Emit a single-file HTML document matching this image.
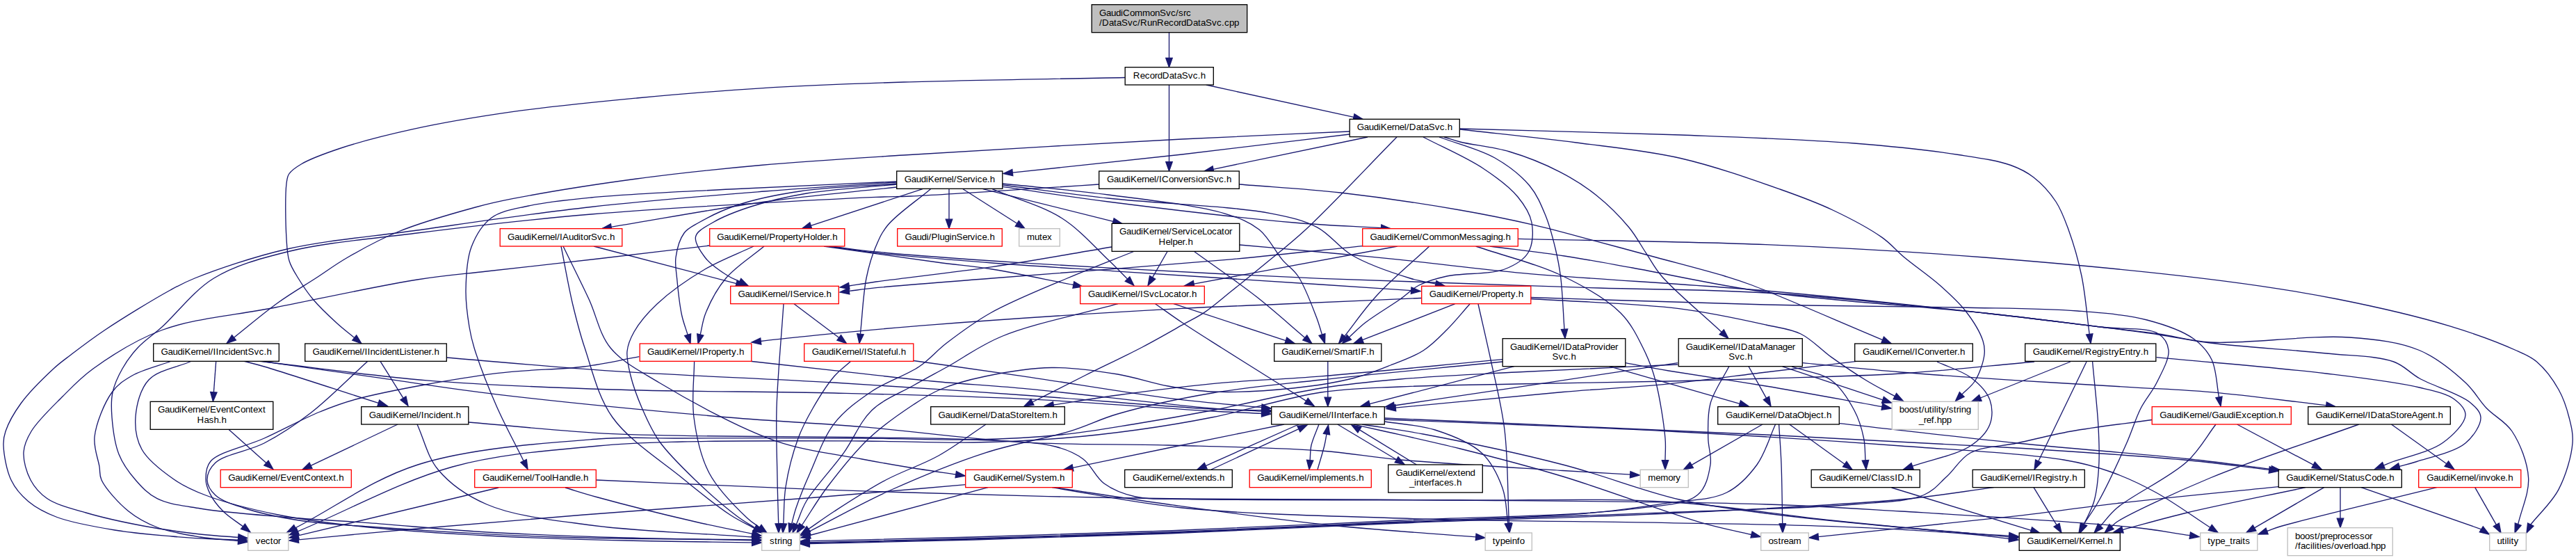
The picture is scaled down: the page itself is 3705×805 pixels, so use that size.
<!DOCTYPE html>
<html><head><meta charset="utf-8"><title>RunRecordDataSvc.cpp include graph</title>
<style>
html,body{margin:0;padding:0;background:#fff;}
svg{display:block}
text{font-family:"Liberation Sans",sans-serif;font-size:13.33px;fill:#000}
.e{fill:none;stroke:#191970;stroke-width:1.33}
.a{fill:#191970;stroke:#191970;stroke-width:1.33}
.n{stroke-width:1.33}
</style></head><body>
<svg width="3705" height="805" viewBox="0 0 3705 805">
<rect x="0" y="0" width="3705" height="805" fill="#ffffff"/>

<g id="edges">
<path class="e" d="M1681.5,46.7 C1681.5,46.7 1681.5,83.4 1681.5,83.4"/><polygon class="a" points="1681.5,96.7 1676.8,83.4 1686.2,83.4"/>
<path class="e" d="M1734.8,122.0 C1734.8,122.0 1947.0,168.4 1947.0,168.4"/><polygon class="a" points="1960.0,171.3 1946.0,173.0 1948.0,163.9"/>
<path class="e" d="M1681.5,122.0 C1681.5,122.0 1681.5,232.7 1681.5,232.7"/><polygon class="a" points="1681.5,246.0 1676.8,232.7 1686.2,232.7"/>
<path class="e" d="M1618.0,111.5 C1512.0,113.7 1394.5,115.0 1300.0,118.0 C1223.9,120.4 1160.2,122.8 1094.0,126.8 C1032.4,130.6 975.1,135.4 915.7,141.0 C856.1,146.7 793.1,152.7 737.0,160.7 C686.6,167.9 638.0,176.0 594.0,185.7 C555.6,194.1 516.3,204.2 487.0,214.0 C465.9,221.1 446.3,228.3 433.6,235.7 C425.6,240.4 419.2,244.6 415.7,250.0 C412.9,254.3 412.9,257.4 412.0,264.0 C410.0,279.5 410.7,322.5 412.0,343.0 C412.8,356.1 413.0,365.2 416.0,375.0 C418.8,384.1 423.8,391.5 429.0,400.0 C434.9,409.7 441.6,420.0 450.0,430.0 C459.8,441.6 474.1,455.1 485.0,465.0 C493.8,473.0 501.5,478.7 509.7,485.5"/><polygon class="a" points="520.0,494.0 506.8,489.1 512.7,481.9"/>
<path class="e" d="M1941.0,189.0 C1860.7,192.7 1790.4,195.3 1700.0,200.0 C1583.5,206.0 1411.4,215.9 1300.0,223.0 C1220.0,228.1 1160.1,231.6 1094.0,237.5 C1032.4,243.0 975.1,249.0 915.7,257.0 C856.1,265.0 779.0,277.5 737.0,285.7 C713.9,290.2 704.5,292.3 683.6,298.0 C653.2,306.3 605.6,319.7 573.0,333.0 C545.6,344.2 521.2,357.7 500.0,370.0 C482.6,380.0 470.0,389.6 454.0,400.0 C436.7,411.2 418.4,421.8 400.0,435.0 C379.3,449.8 357.6,468.5 336.5,485.2"/><polygon class="a" points="326.0,493.5 333.6,481.6 339.4,488.9"/>
<path class="e" d="M1941.0,193.0 C1860.7,202.7 1780.6,212.8 1700.0,222.0 C1619.0,231.2 1537.5,239.4 1456.3,248.1"/><polygon class="a" points="1443.0,249.5 1455.8,243.4 1456.8,252.7"/>
<path class="e" d="M1967.0,197.0 C1967.0,197.0 1745.0,243.3 1745.0,243.3"/><polygon class="a" points="1732.0,246.0 1744.1,238.7 1746.0,247.9"/>
<path class="e" d="M2009.0,197.0 C1965.3,241.3 1913.8,296.9 1878.0,330.0 C1854.9,351.3 1837.4,364.5 1818.6,380.0 C1801.9,393.8 1786.0,406.6 1771.0,418.6 C1757.7,429.3 1745.2,440.4 1733.0,448.6 C1722.7,455.6 1714.7,459.1 1703.0,465.7 C1686.5,475.0 1664.8,487.6 1643.0,499.0 C1617.7,512.3 1586.9,526.5 1560.0,540.0 C1534.3,552.8 1509.9,565.3 1484.9,578.0"/><polygon class="a" points="1473.0,584.0 1482.8,573.8 1487.0,582.2"/>
<path class="e" d="M2047.0,197.0 C2075.7,212.0 2108.9,226.0 2133.0,242.0 C2152.7,255.0 2171.0,268.4 2183.0,283.0 C2192.7,294.7 2200.5,306.8 2203.0,320.0 C2205.6,333.4 2204.7,351.8 2198.0,363.0 C2191.5,374.0 2178.7,381.3 2164.0,387.0 C2143.1,395.0 2103.5,392.0 2081.0,397.0 C2065.1,400.5 2052.6,404.0 2041.0,410.0 C2030.6,415.3 2024.5,422.6 2014.0,430.0 C2000.0,439.9 1977.3,453.2 1964.0,463.6 C1954.4,471.1 1948.3,477.7 1940.4,484.8"/><polygon class="a" points="1930.5,493.7 1937.3,481.3 1943.5,488.3"/>
<path class="e" d="M2070.0,197.0 C2096.7,207.0 2127.3,214.1 2150.0,227.0 C2169.6,238.2 2187.5,252.0 2200.0,267.0 C2210.9,280.1 2216.8,295.0 2223.0,310.0 C2229.2,325.0 2233.3,341.9 2237.0,357.0 C2240.3,370.8 2242.5,381.5 2244.5,397.0 C2247.3,418.3 2248.2,447.8 2250.0,473.2"/><polygon class="a" points="2251.0,486.5 2245.4,473.5 2254.7,472.9"/>
<path class="e" d="M2077.0,197.0 C2084.7,199.3 2090.1,201.5 2100.0,204.0 C2117.1,208.3 2147.6,211.1 2171.0,218.0 C2195.3,225.2 2221.3,235.7 2243.0,246.8 C2262.5,256.8 2279.5,267.5 2296.0,280.7 C2312.9,294.2 2330.4,311.7 2343.0,327.0 C2353.4,339.6 2359.9,352.6 2368.0,364.6 C2375.5,375.8 2379.3,384.5 2390.0,397.0 C2408.6,418.7 2447.5,450.6 2476.2,477.4"/><polygon class="a" points="2486.0,486.5 2473.1,480.8 2479.4,474.0"/>
<path class="e" d="M2100.0,186.0 C2155.7,192.3 2212.9,197.9 2267.0,205.0 C2318.4,211.8 2368.0,216.3 2417.0,227.5 C2465.7,238.7 2520.0,257.9 2560.0,272.0 C2589.5,282.4 2611.5,290.4 2636.0,302.0 C2660.5,313.6 2688.5,328.3 2707.0,341.4 C2720.4,350.9 2726.9,359.9 2739.0,370.0 C2753.9,382.4 2774.7,396.5 2790.0,410.0 C2803.7,422.2 2816.6,433.5 2827.0,447.0 C2837.2,460.2 2848.1,478.0 2852.0,490.0 C2854.5,497.6 2854.9,502.4 2854.0,510.0 C2852.7,520.6 2847.1,537.1 2841.0,547.0 C2835.9,555.3 2828.2,560.3 2821.8,566.9"/><polygon class="a" points="2812.5,576.5 2818.4,563.7 2825.1,570.2"/>
<path class="e" d="M2100.0,185.0 C2205.7,188.0 2317.6,190.2 2417.0,194.0 C2505.3,197.4 2594.3,200.3 2667.0,206.0 C2723.4,210.5 2775.7,216.1 2817.0,222.5 C2846.4,227.0 2872.5,230.5 2892.0,237.5 C2905.7,242.4 2914.7,247.0 2925.0,255.0 C2936.6,264.0 2948.6,277.2 2957.0,290.0 C2965.1,302.3 2969.4,314.7 2975.0,330.0 C2982.0,349.2 2989.1,373.3 2994.0,397.0 C2999.4,423.1 3001.5,452.7 3005.2,480.5"/><polygon class="a" points="3007.0,493.7 3000.6,481.1 3009.9,479.9"/>
<path class="e" d="M1418.0,610.0 C1395.3,625.0 1373.8,641.7 1350.0,655.0 C1325.9,668.4 1298.8,676.8 1274.0,690.0 C1248.8,703.4 1220.3,721.9 1200.0,735.0 C1185.4,744.5 1175.3,752.0 1163.0,760.4"/><polygon class="a" points="1152.0,768.0 1160.3,756.6 1165.6,764.3"/>
<path class="e" d="M1782.5,265.0 C1831.0,269.0 1877.6,271.3 1928.0,277.0 C1983.0,283.3 2049.5,293.2 2100.0,302.0 C2140.0,308.9 2173.1,315.8 2207.0,323.6 C2238.1,330.8 2266.6,339.0 2296.0,346.8 C2324.9,354.5 2352.3,362.0 2382.0,370.0 C2413.8,378.6 2455.6,389.3 2481.0,397.0 C2497.1,401.9 2502.3,403.4 2520.0,410.0 C2559.4,424.8 2645.1,462.4 2707.7,488.6"/><polygon class="a" points="2720.0,493.7 2705.9,492.9 2709.5,484.2"/>
<path class="e" d="M1580.5,265.0 C1551.7,266.9 1528.2,268.5 1494.0,270.7 C1444.1,273.9 1352.0,280.1 1310.0,282.0 C1288.1,283.0 1284.7,282.3 1260.0,283.4 C1189.2,286.5 969.7,297.9 850.0,308.0 C756.3,315.9 677.2,325.3 600.0,335.0 C533.1,343.4 465.9,348.8 413.0,362.0 C372.2,372.2 338.0,381.3 307.5,400.0 C278.4,417.8 253.4,451.7 233.0,470.0 C219.3,482.3 207.8,489.4 198.0,500.0 C189.2,509.5 182.0,519.3 176.0,530.0 C170.0,540.6 164.5,552.3 162.0,564.0 C159.5,575.6 160.0,586.9 161.0,600.0 C162.3,616.0 164.8,637.4 171.0,653.0 C176.6,667.1 185.6,679.2 195.0,690.0 C204.0,700.4 212.9,710.1 226.0,716.7 C242.3,725.0 263.7,727.0 288.0,731.0 C322.0,736.6 370.7,740.0 411.5,743.5 C451.4,746.9 487.0,748.5 530.0,751.7 C581.6,755.5 641.0,761.5 700.0,765.0 C763.9,768.8 834.9,771.0 900.0,773.0 C962.0,774.9 1021.1,775.5 1081.7,776.7"/><polygon class="a" points="1095.0,777.0 1081.6,781.4 1081.8,772.1"/>
<path class="e" d="M2786.0,520.0 C2802.3,527.7 2821.9,533.0 2835.0,543.0 C2846.5,551.8 2857.7,563.2 2862.0,575.0 C2865.9,585.8 2866.1,599.4 2862.0,610.0 C2857.5,621.6 2847.3,632.2 2834.0,641.0 C2814.6,653.9 2778.4,660.4 2750.6,670.1"/><polygon class="a" points="2738.0,674.5 2749.0,665.7 2752.1,674.5"/>
<path class="e" d="M2670.5,519.4 C2627.0,524.6 2584.3,529.7 2540.0,535.0 C2494.2,540.5 2447.7,547.1 2400.0,551.8 C2350.4,556.7 2304.4,558.7 2248.0,563.5 C2176.9,569.6 2087.5,578.7 2007.3,586.2"/><polygon class="a" points="1994.0,587.5 2006.8,581.6 2007.7,590.9"/>
<path class="e" d="M2720.6,701.0 C2720.6,701.0 2921.3,762.4 2921.3,762.4"/><polygon class="a" points="2934.0,766.3 2919.9,766.9 2922.6,757.9"/>
<path class="e" d="M1947.0,610.0 C1960.3,613.0 1970.3,615.2 1987.0,619.0 C2015.1,625.4 2059.9,635.0 2100.0,645.0 C2146.1,656.5 2195.2,669.1 2248.0,685.0 C2309.9,703.7 2398.0,737.3 2448.0,751.6 C2477.4,760.0 2495.4,762.9 2519.0,768.5"/><polygon class="a" points="2532.0,771.6 2518.0,773.1 2520.1,764.0"/>
<path class="e" d="M1959.0,610.0 C1988.3,614.7 2011.8,617.4 2047.0,624.0 C2100.5,634.1 2184.4,651.5 2248.0,668.0 C2306.5,683.1 2363.0,706.1 2415.0,718.0 C2459.3,728.1 2495.7,732.1 2540.0,738.0 C2590.0,744.6 2649.0,750.1 2700.0,755.0 C2746.6,759.5 2799.0,763.5 2834.0,766.6 C2856.6,768.6 2871.2,770.0 2889.7,771.8"/><polygon class="a" points="2903.0,773.0 2889.3,776.4 2890.2,767.1"/>
<path class="e" d="M1991.5,606.0 C2015.7,610.0 2040.8,610.6 2064.0,618.0 C2087.4,625.5 2114.5,635.8 2131.0,651.0 C2145.6,664.5 2154.7,684.0 2161.0,701.5 C2166.9,717.9 2166.3,735.4 2168.9,752.3"/><polygon class="a" points="2171.0,765.5 2164.3,753.1 2173.6,751.6"/>
<path class="e" d="M1991.5,601.0 C2174.3,609.0 2376.2,617.1 2540.0,625.0 C2672.9,631.4 2791.8,637.2 2901.0,644.0 C2991.7,649.7 3083.1,655.6 3150.0,662.0 C3195.3,666.3 3225.8,671.0 3263.8,675.4"/><polygon class="a" points="3277.0,677.0 3263.2,680.1 3264.3,670.8"/>
<path class="e" d="M1991.5,603.0 C2127.7,608.7 2270.7,613.2 2400.0,620.0 C2517.0,626.1 2632.6,633.5 2734.0,641.0 C2819.0,647.3 2913.9,651.9 2968.0,661.0 C2997.4,665.9 3013.1,670.3 3035.0,678.0 C3057.4,685.9 3078.6,695.7 3101.0,708.0 C3126.4,721.9 3152.9,741.5 3178.8,758.3"/><polygon class="a" points="3190.0,765.5 3176.3,762.2 3181.3,754.3"/>
<path class="e" d="M1847.0,610.0 C1791.3,621.3 1732.9,633.1 1680.0,644.0 C1632.1,653.8 1588.7,662.9 1543.1,672.3"/><polygon class="a" points="1530.0,675.0 1542.1,667.7 1544.0,676.9"/>
<path class="e" d="M1868.0,610.0 C1868.0,610.0 1734.2,669.6 1734.2,669.6"/><polygon class="a" points="1722.0,675.0 1732.3,665.3 1736.1,673.8"/>
<path class="e" d="M1742.0,675.0 C1742.0,675.0 1867.9,616.6 1867.9,616.6"/><polygon class="a" points="1880.0,611.0 1869.9,620.8 1865.9,612.4"/>
<path class="e" d="M1897.0,610.0 C1893.3,620.0 1888.1,630.7 1886.0,640.0 C1884.3,647.7 1884.8,654.5 1884.1,661.7"/><polygon class="a" points="1883.0,675.0 1879.5,661.3 1888.8,662.1"/>
<path class="e" d="M1895.0,675.0 C1898.3,663.3 1902.8,649.4 1905.0,640.0 C1906.5,633.7 1907.0,629.4 1908.0,624.1"/><polygon class="a" points="1910.5,611.0 1912.6,625.0 1903.4,623.2"/>
<path class="e" d="M1923.8,610.0 C1923.8,610.0 2008.6,660.7 2008.6,660.7"/><polygon class="a" points="2020.0,667.5 2006.2,664.7 2011.0,656.7"/>
<path class="e" d="M2037.4,668.0 C2037.4,668.0 1955.4,617.9 1955.4,617.9"/><polygon class="a" points="1944.0,611.0 1957.8,614.0 1952.9,621.9"/>
<path class="e" d="M3277.0,699.6 C3199.7,707.6 3113.1,715.8 3045.0,723.6 C2991.3,729.7 2957.2,735.1 2901.0,741.6 C2821.9,750.7 2710.5,761.6 2615.3,771.6"/><polygon class="a" points="2602.0,773.0 2614.8,767.0 2615.7,776.3"/>
<path class="e" d="M3316.0,700.7 C3259.2,712.8 3193.7,725.5 3145.6,737.0 C3109.9,745.5 3083.8,753.4 3052.9,761.6"/><polygon class="a" points="3040.0,765.0 3051.7,757.1 3054.1,766.1"/>
<path class="e" d="M3342.7,700.7 C3342.7,700.7 3242.5,758.8 3242.5,758.8"/><polygon class="a" points="3231.0,765.5 3240.2,754.8 3244.9,762.9"/>
<path class="e" d="M3366.0,700.7 C3366.0,700.7 3366.0,745.2 3366.0,745.2"/><polygon class="a" points="3366.0,758.5 3361.3,745.2 3370.7,745.2"/>
<path class="e" d="M3396.0,700.7 C3396.0,700.7 3568.8,760.8 3568.8,760.8"/><polygon class="a" points="3580.0,768.0 3566.3,764.7 3571.3,756.8"/>
<path class="e" d="M1513.0,700.7 C1575.3,710.5 1629.4,722.8 1700.0,730.0 C1791.0,739.3 1903.9,741.4 2014.0,745.0 C2136.0,749.0 2287.4,749.4 2400.0,751.6 C2487.7,753.3 2559.1,753.7 2634.0,756.6 C2703.3,759.3 2788.0,764.0 2834.0,768.0 C2858.4,770.1 2871.2,772.3 2889.8,774.5"/><polygon class="a" points="2903.0,776.0 2889.2,779.1 2890.3,769.8"/>
<path class="e" d="M1421.0,700.7 C1421.0,700.7 1164.9,769.5 1164.9,769.5"/><polygon class="a" points="1152.0,773.0 1163.7,765.0 1166.1,774.0"/>
<path class="e" d="M1518.0,700.7 C1572.0,708.8 1621.0,716.8 1680.0,725.0 C1750.8,734.8 1838.1,747.1 1914.0,755.0 C1985.5,762.5 2053.1,766.3 2122.7,771.9"/><polygon class="a" points="2136.0,773.0 2122.3,776.6 2123.1,767.3"/>
<path class="e" d="M1389.0,696.7 C1317.3,702.8 1253.5,708.6 1174.0,715.0 C1074.9,722.9 942.1,731.9 840.0,740.0 C753.4,746.9 673.2,753.6 600.0,760.0 C538.2,765.4 486.2,770.5 429.3,775.8"/><polygon class="a" points="416.0,777.0 428.8,771.1 429.7,780.4"/>
<path class="e" d="M1289.5,262.0 C1226.3,266.3 1167.5,269.6 1100.0,275.0 C1022.4,281.2 933.2,288.2 850.0,297.5 C766.6,306.8 677.3,320.2 600.0,331.0 C533.1,340.3 469.6,345.1 413.0,358.0 C364.4,369.1 309.8,388.1 280.0,400.0 C264.3,406.3 259.3,409.2 245.0,417.0 C220.8,430.2 176.0,457.6 150.0,475.0 C131.0,487.7 115.3,499.8 102.0,510.0 C92.2,517.5 86.3,521.4 77.0,530.0 C63.4,542.6 42.0,563.5 30.0,580.0 C20.2,593.5 11.8,608.7 8.0,620.0 C5.4,627.5 4.7,631.9 5.0,640.0 C5.4,652.9 9.3,676.0 16.0,690.0 C21.9,702.4 30.6,712.3 41.0,721.0 C52.3,730.4 65.4,737.2 82.0,743.5 C104.4,751.9 137.3,757.4 165.0,762.0 C192.3,766.5 221.6,768.8 247.0,771.0 C269.1,772.9 291.5,774.2 309.0,775.0 C321.9,775.6 331.5,775.7 342.7,776.1"/><polygon class="a" points="356.0,776.5 342.5,780.7 342.8,771.4"/>
<path class="e" d="M1289.5,261.0 C1209.7,264.7 1126.2,268.0 1050.0,272.0 C980.3,275.7 903.5,278.8 850.0,284.0 C814.0,287.5 785.8,290.2 760.0,296.0 C739.8,300.6 720.8,302.8 707.0,313.0 C693.8,322.8 684.2,338.8 678.0,355.0 C671.1,372.9 670.3,397.1 670.0,417.0 C669.7,435.3 672.5,454.9 675.0,470.0 C676.9,481.5 678.2,487.7 682.0,500.0 C688.5,521.0 702.1,556.3 714.0,583.5 C725.8,610.5 740.1,636.2 753.1,662.6"/><polygon class="a" points="759.0,674.5 748.9,664.6 757.3,660.5"/>
<path class="e" d="M1289.5,269.0 C1226.3,276.0 1165.5,281.0 1100.0,290.0 C1029.1,299.8 952.8,314.2 879.2,326.3"/><polygon class="a" points="866.0,328.5 878.4,321.7 879.9,330.9"/>
<path class="e" d="M1289.5,264.0 C1243.0,267.7 1191.2,268.8 1150.0,275.0 C1116.5,280.0 1085.9,286.3 1060.0,295.0 C1039.0,302.0 1018.7,312.1 1005.0,320.0 C996.0,325.2 989.3,327.8 984.0,335.0 C977.6,343.6 973.6,358.6 972.0,370.0 C970.6,380.2 972.5,388.6 973.6,400.0 C975.0,415.2 977.4,438.2 980.6,453.0 C983.0,464.0 986.3,471.8 989.1,481.2"/><polygon class="a" points="993.0,494.0 984.7,482.6 993.6,479.9"/>
<path class="e" d="M1289.5,265.0 C1246.3,269.3 1197.8,271.6 1160.0,278.0 C1129.9,283.1 1103.9,289.2 1080.0,297.0 C1059.7,303.6 1039.2,311.5 1025.0,320.0 C1014.7,326.2 1002.5,331.8 1000.6,340.0 C998.6,348.4 1007.1,361.0 1014.0,370.0 C1021.9,380.3 1037.9,390.8 1047.4,396.8 C1053.6,400.7 1058.3,402.1 1063.8,404.7"/><polygon class="a" points="1075.8,410.5 1061.8,408.9 1065.8,400.5"/>
<path class="e" d="M1327.0,271.7 C1327.0,271.7 1166.3,324.4 1166.3,324.4"/><polygon class="a" points="1153.6,328.5 1164.8,319.9 1167.7,328.8"/>
<path class="e" d="M1338.5,271.7 C1318.0,289.0 1290.3,307.4 1277.0,323.5 C1268.3,334.0 1264.9,342.2 1260.0,353.6 C1254.2,367.1 1249.6,382.2 1246.0,400.0 C1241.4,422.9 1240.3,453.5 1237.4,480.2"/><polygon class="a" points="1236.0,493.5 1232.8,479.7 1242.1,480.7"/>
<path class="e" d="M1365.0,271.7 C1365.0,271.7 1365.0,315.2 1365.0,315.2"/><polygon class="a" points="1365.0,328.5 1360.3,315.2 1369.7,315.2"/>
<path class="e" d="M1385.0,271.7 C1385.0,271.7 1462.8,321.3 1462.8,321.3"/><polygon class="a" points="1474.0,328.5 1460.3,325.3 1465.3,317.4"/>
<path class="e" d="M1413.6,271.7 C1413.6,271.7 1601.1,318.3 1601.1,318.3"/><polygon class="a" points="1614.0,321.5 1599.9,322.8 1602.2,313.8"/>
<path class="e" d="M1427.0,271.7 C1460.3,285.6 1498.3,295.4 1527.0,313.5 C1553.2,330.0 1576.7,357.2 1594.0,373.6 C1605.4,384.4 1612.4,391.9 1621.6,401.1"/><polygon class="a" points="1631.0,410.5 1618.3,404.4 1624.9,397.8"/>
<path class="e" d="M1442.0,264.0 C1492.7,269.3 1542.2,273.1 1594.0,280.0 C1648.5,287.2 1722.2,294.9 1761.0,306.8 C1783.2,313.6 1797.1,318.9 1811.0,330.0 C1824.9,341.1 1834.1,361.5 1844.5,373.6 C1852.5,382.9 1860.0,386.6 1867.0,397.0 C1877.0,411.8 1887.8,441.4 1893.8,457.0 C1897.5,466.7 1898.9,473.0 1901.5,481.0"/><polygon class="a" points="1905.5,493.7 1897.0,482.4 1905.9,479.6"/>
<path class="e" d="M1442.0,266.0 C1492.7,272.3 1537.8,278.9 1594.0,285.0 C1663.6,292.6 1774.1,296.3 1828.0,306.8 C1857.3,312.5 1874.9,316.4 1894.6,326.8 C1913.6,336.8 1924.9,355.5 1944.7,367.0 C1968.1,380.6 2005.6,393.1 2028.0,400.0 C2042.6,404.5 2052.7,405.4 2065.0,408.1"/><polygon class="a" points="2078.0,411.0 2064.0,412.7 2066.0,403.6"/>
<path class="e" d="M1442.0,268.4 C1492.7,275.6 1536.2,282.6 1594.0,290.0 C1670.5,299.7 1788.5,313.7 1861.0,320.0 C1910.6,324.3 1944.7,325.1 1986.5,327.7"/><polygon class="a" points="1999.8,328.5 1986.2,332.3 1986.8,323.0"/>
<path class="e" d="M854.0,354.0 C854.0,354.0 1059.1,407.6 1059.1,407.6"/><polygon class="a" points="1072.0,411.0 1057.9,412.1 1060.3,403.1"/>
<path class="e" d="M807.0,354.0 C812.5,381.7 817.5,411.3 823.6,437.0 C829.0,459.5 833.2,476.8 841.0,500.0 C851.0,529.7 859.7,570.1 881.0,600.0 C904.6,633.2 950.4,662.0 981.0,687.0 C1005.8,707.3 1030.4,727.2 1050.0,740.0 C1063.4,748.8 1073.6,753.0 1085.3,759.5"/><polygon class="a" points="1097.0,766.0 1083.1,763.6 1087.6,755.5"/>
<path class="e" d="M810.0,354.0 C822.3,379.3 835.4,405.1 847.0,430.0 C858.0,453.7 862.0,480.4 878.0,500.0 C895.0,520.8 918.8,532.4 948.0,550.0 C991.0,575.9 1062.2,615.2 1115.0,633.6 C1158.6,648.8 1204.6,653.1 1240.0,660.0 C1266.0,665.0 1285.4,668.3 1308.0,672.0 C1330.3,675.6 1352.5,678.7 1374.8,682.0"/><polygon class="a" points="1388.0,684.0 1374.1,686.6 1375.5,677.4"/>
<path class="e" d="M1020.5,353.0 C967.0,359.3 913.5,365.8 860.0,372.0 C806.6,378.2 747.1,384.5 700.0,390.0 C662.8,394.3 639.1,395.8 600.0,402.0 C543.9,410.9 460.2,429.3 396.0,442.0 C338.6,453.3 279.4,457.3 233.0,474.5 C194.6,488.7 159.6,511.5 134.0,530.0 C115.5,543.4 104.4,555.5 90.0,570.0 C74.7,585.4 54.3,604.6 45.0,620.0 C38.6,630.6 34.6,639.2 34.0,650.0 C33.3,662.3 38.0,678.6 44.0,690.0 C49.6,700.6 57.2,709.4 68.0,716.7 C81.9,726.1 103.0,730.9 123.5,737.0 C148.1,744.3 178.4,750.8 206.0,756.0 C233.3,761.1 263.4,765.2 288.0,768.0 C308.0,770.3 324.5,771.0 342.7,772.4"/><polygon class="a" points="356.0,773.5 342.3,777.1 343.1,767.8"/>
<path class="e" d="M1084.0,354.0 C1060.7,365.0 1036.6,373.6 1014.0,387.0 C990.2,401.0 963.0,420.1 945.0,437.0 C931.0,450.2 919.2,464.2 912.0,477.0 C906.5,486.7 903.0,495.0 902.0,505.0 C900.9,515.9 904.0,527.6 907.0,540.0 C910.6,554.7 916.8,571.6 923.5,587.0 C930.4,602.9 937.0,618.4 948.0,634.0 C961.2,652.7 981.5,672.2 1000.0,690.0 C1018.8,708.2 1043.8,729.8 1060.0,742.0 C1070.1,749.6 1077.2,753.2 1085.8,758.7"/><polygon class="a" points="1097.0,766.0 1083.3,762.7 1088.4,754.8"/>
<path class="e" d="M1099.0,354.0 C1080.7,369.3 1058.3,383.0 1044.0,400.0 C1031.1,415.3 1021.1,434.9 1015.0,450.0 C1010.4,461.2 1009.8,470.7 1007.2,481.1"/><polygon class="a" points="1004.0,494.0 1002.7,479.9 1011.8,482.2"/>
<path class="e" d="M1185.0,354.0 C1239.3,361.7 1303.4,371.0 1348.0,377.0 C1379.0,381.2 1398.2,382.4 1427.0,387.0 C1462.2,392.6 1504.9,402.0 1543.9,409.5"/><polygon class="a" points="1557.0,412.0 1543.0,414.1 1544.8,404.9"/>
<path class="e" d="M1192.0,354.0 C1214.7,357.2 1232.3,360.4 1260.0,363.6 C1303.3,368.5 1370.8,373.7 1427.0,378.0 C1484.1,382.4 1534.4,385.3 1600.0,389.6 C1686.3,395.3 1820.7,403.8 1900.0,409.0 C1952.2,412.4 1986.5,414.7 2029.7,417.6"/><polygon class="a" points="2043.0,418.5 2029.4,422.3 2030.0,413.0"/>
<path class="e" d="M1195.0,354.0 C1216.7,356.7 1233.3,359.3 1260.0,362.0 C1302.7,366.3 1370.8,371.1 1427.0,375.0 C1484.1,378.9 1534.4,381.8 1600.0,385.4 C1686.3,390.2 1807.7,396.5 1900.0,400.4 C1979.0,403.7 2050.3,405.6 2120.0,408.0 C2183.0,410.1 2235.7,412.0 2300.0,414.0 C2374.3,416.3 2454.7,415.8 2540.0,421.0 C2637.7,426.9 2765.8,440.6 2854.0,450.0 C2918.4,456.8 2974.9,464.5 3021.0,470.0 C3053.6,473.9 3077.5,476.2 3104.5,480.0 C3130.1,483.6 3148.0,490.1 3179.0,492.0 C3229.4,495.1 3323.9,480.9 3379.0,485.0 C3418.4,487.9 3450.7,491.4 3479.6,503.5 C3505.4,514.3 3528.9,534.2 3546.0,550.0 C3559.2,562.2 3565.5,575.4 3576.6,587.0 C3587.8,598.7 3603.4,605.6 3613.0,620.0 C3624.5,637.4 3635.3,664.5 3636.6,687.0 C3637.9,709.0 3626.7,731.3 3621.7,753.5"/><polygon class="a" points="3617.0,766.0 3617.3,751.9 3626.1,755.2"/>
<path class="e" d="M1959.7,353.6 C1893.5,360.3 1835.8,366.9 1761.0,373.6 C1664.1,382.3 1519.2,392.6 1427.0,400.0 C1361.8,405.3 1296.2,410.0 1260.0,413.7 C1242.5,415.5 1234.2,416.8 1221.2,418.4"/><polygon class="a" points="1208.0,420.0 1220.7,413.8 1221.8,423.0"/>
<path class="e" d="M2009.8,354.0 C2009.8,354.0 1717.1,408.1 1717.1,408.1"/><polygon class="a" points="1704.0,410.5 1716.3,403.5 1718.0,412.7"/>
<path class="e" d="M2055.8,354.0 C2030.5,377.7 2001.4,401.7 1980.0,425.0 C1961.9,444.7 1949.2,463.8 1933.8,483.3"/><polygon class="a" points="1925.5,493.7 1930.1,480.4 1937.4,486.2"/>
<path class="e" d="M2122.6,354.0 C2164.4,368.3 2211.4,379.4 2248.0,397.0 C2279.5,412.2 2310.9,429.7 2331.0,450.0 C2347.2,466.3 2356.4,486.6 2365.0,504.0 C2372.3,518.8 2376.5,530.1 2381.0,547.0 C2387.1,569.9 2393.2,608.8 2395.0,630.0 C2396.1,643.0 2395.0,651.1 2395.0,661.7"/><polygon class="a" points="2395.0,675.0 2390.3,661.7 2399.7,661.7"/>
<path class="e" d="M2143.0,354.0 C2178.7,358.7 2215.2,362.7 2250.0,368.0 C2283.4,373.1 2309.9,378.2 2348.0,385.0 C2401.4,394.5 2467.9,410.0 2540.0,420.0 C2631.6,432.7 2765.8,440.5 2854.0,450.0 C2918.4,456.9 2974.9,464.5 3021.0,470.0 C3053.6,473.9 3089.0,470.1 3104.5,480.0 C3113.4,485.7 3118.0,494.1 3119.0,503.5 C3120.3,516.1 3109.0,535.7 3102.0,550.0 C3095.5,563.4 3085.9,573.4 3079.0,587.0 C3071.3,602.1 3067.0,618.2 3058.8,636.8 C3048.0,661.1 3030.7,698.6 3018.7,720.0 C3010.7,734.2 3003.9,742.9 2996.5,754.3"/><polygon class="a" points="2990.0,766.0 2992.4,752.1 3000.6,756.6"/>
<path class="e" d="M2183.5,343.4 C2302.3,346.2 2425.0,347.0 2540.0,351.7 C2648.0,356.1 2746.8,361.6 2854.0,370.0 C2967.0,378.9 3107.9,392.2 3201.5,404.3 C3265.4,412.6 3308.7,419.4 3362.0,430.0 C3415.8,440.7 3476.5,454.6 3523.0,468.6 C3559.6,479.7 3597.0,493.7 3619.5,504.0 C3632.3,509.8 3639.4,512.2 3648.5,520.0 C3659.8,529.6 3672.1,546.0 3680.0,560.0 C3687.2,572.8 3691.7,586.7 3695.0,600.0 C3698.1,612.4 3701.1,623.0 3700.0,637.0 C3698.5,656.1 3690.4,683.8 3680.0,703.6 C3670.0,722.6 3653.2,737.2 3639.8,754.0"/><polygon class="a" points="3634.0,766.0 3635.6,752.0 3644.0,756.1"/>
<path class="e" d="M1599.0,355.0 C1541.7,364.5 1484.0,375.2 1427.0,383.6 C1371.0,391.8 1296.2,399.9 1260.0,405.0 C1242.5,407.5 1234.1,409.0 1221.2,411.0"/><polygon class="a" points="1208.0,413.0 1220.5,406.4 1221.9,415.6"/>
<path class="e" d="M1630.7,361.5 C1598.8,374.3 1567.9,385.9 1535.0,400.0 C1499.3,415.2 1455.6,432.5 1424.5,450.0 C1399.7,464.0 1379.3,479.5 1361.0,493.5 C1346.1,505.0 1337.5,516.5 1322.0,527.0 C1303.1,539.8 1274.6,548.5 1254.0,562.5 C1234.1,575.9 1214.6,589.9 1200.0,608.7 C1184.5,628.6 1174.7,658.2 1165.0,680.0 C1157.0,698.0 1149.6,716.4 1145.0,730.0 C1141.9,739.1 1140.7,745.4 1138.6,753.2"/><polygon class="a" points="1135.0,766.0 1134.1,751.9 1143.1,754.4"/>
<path class="e" d="M1679.0,361.5 C1679.0,361.5 1657.6,398.9 1657.6,398.9"/><polygon class="a" points="1651.0,410.5 1653.6,396.6 1661.7,401.2"/>
<path class="e" d="M1717.6,361.5 C1747.7,383.3 1780.1,405.3 1807.8,427.0 C1832.7,446.6 1853.8,465.9 1876.8,485.4"/><polygon class="a" points="1887.0,494.0 1873.8,489.0 1879.8,481.8"/>
<path class="e" d="M1783.0,352.0 C1831.3,356.3 1886.0,361.1 1928.0,365.0 C1960.4,368.0 1980.6,369.9 2014.0,373.4 C2060.5,378.2 2114.7,385.7 2181.0,391.8 C2278.0,400.7 2424.4,407.9 2540.0,418.0 C2648.2,427.5 2765.8,440.2 2854.0,450.0 C2918.4,457.1 2974.9,464.2 3021.0,470.0 C3053.6,474.1 3077.5,477.0 3104.5,481.0 C3130.1,484.7 3149.1,489.3 3179.0,493.0 C3223.5,498.6 3297.9,502.9 3346.0,508.0 C3382.7,511.9 3418.8,511.3 3442.8,520.0 C3459.0,525.9 3465.3,535.8 3480.0,544.0 C3499.8,555.0 3537.4,565.9 3552.0,578.0 C3560.5,585.1 3567.6,591.6 3568.0,600.0 C3568.5,610.6 3557.8,627.1 3546.0,637.0 C3530.4,650.1 3493.6,657.8 3476.0,663.5 C3465.6,666.9 3459.2,668.1 3450.8,670.4"/><polygon class="a" points="3438.0,674.0 3449.6,665.9 3452.1,675.0"/>
<path class="e" d="M1142.0,436.7 C1142.0,436.7 1206.8,485.5 1206.8,485.5"/><polygon class="a" points="1217.4,493.5 1203.9,489.2 1209.6,481.7"/>
<path class="e" d="M1127.0,436.7 C1123.7,486.8 1118.3,542.0 1117.0,587.0 C1116.0,623.7 1117.5,657.2 1118.0,687.0 C1118.4,711.2 1119.1,730.8 1119.7,752.7"/><polygon class="a" points="1120.0,766.0 1115.0,752.8 1124.3,752.6"/>
<path class="e" d="M1608.0,436.7 C1552.3,452.3 1485.4,465.2 1441.0,483.5 C1409.2,496.6 1386.0,514.2 1363.0,527.0 C1344.8,537.1 1331.1,544.2 1314.0,554.0 C1294.9,564.9 1270.6,573.9 1254.0,589.7 C1237.0,605.9 1228.4,630.1 1213.6,650.8 C1197.4,673.4 1171.6,700.4 1160.0,720.0 C1152.5,732.7 1150.2,742.5 1145.3,753.8"/><polygon class="a" points="1140.0,766.0 1141.0,751.9 1149.6,755.6"/>
<path class="e" d="M1661.6,436.7 C1674.4,445.6 1685.8,454.0 1700.0,463.5 C1717.0,474.9 1734.4,485.7 1757.0,500.0 C1789.9,520.9 1838.1,550.9 1878.7,576.4"/><polygon class="a" points="1890.0,583.5 1876.2,580.4 1881.2,572.5"/>
<path class="e" d="M1688.0,436.7 C1688.0,436.7 1849.3,489.6 1849.3,489.6"/><polygon class="a" points="1862.0,493.7 1847.9,494.0 1850.8,485.1"/>
<path class="e" d="M2044.0,428.5 C1978.3,431.3 1907.9,434.4 1847.0,437.0 C1794.4,439.3 1759.7,440.2 1700.0,443.4 C1606.6,448.5 1438.0,459.3 1341.0,466.8 C1274.8,471.9 1219.5,477.3 1174.0,481.8 C1142.5,484.9 1120.8,487.6 1094.3,490.5"/><polygon class="a" points="1081.0,492.0 1093.7,485.9 1094.8,495.2"/>
<path class="e" d="M2092.5,436.9 C2092.5,436.9 1959.6,488.7 1959.6,488.7"/><polygon class="a" points="1947.2,493.5 1957.9,484.3 1961.3,493.0"/>
<path class="e" d="M2114.0,437.0 C2103.0,449.3 2092.4,462.6 2081.0,474.0 C2070.1,484.9 2060.0,495.7 2047.0,504.0 C2033.2,512.9 2016.3,518.5 2000.0,525.0 C1983.0,531.8 1967.1,538.4 1947.0,543.5 C1921.8,549.9 1891.2,554.7 1860.0,558.0 C1824.1,561.7 1776.4,564.4 1743.5,563.0 C1719.1,562.0 1701.8,558.9 1680.0,555.0 C1656.5,550.8 1633.5,542.3 1607.6,538.0 C1578.2,533.1 1544.2,528.0 1512.5,528.5 C1480.7,529.0 1445.6,535.0 1417.0,541.0 C1393.0,546.0 1370.4,552.2 1352.0,560.0 C1337.2,566.2 1328.0,572.3 1314.0,581.5 C1295.1,594.0 1270.0,611.1 1250.0,630.0 C1228.5,650.2 1207.0,677.6 1190.0,700.0 C1175.6,719.0 1165.6,736.6 1153.4,754.9"/><polygon class="a" points="1146.0,766.0 1149.5,752.3 1157.3,757.5"/>
<path class="e" d="M2126.0,437.0 C2132.0,463.7 2138.0,488.7 2144.0,517.0 C2150.7,548.7 2159.6,581.7 2164.0,618.0 C2169.1,659.5 2168.2,707.8 2170.4,752.7"/><polygon class="a" points="2171.0,766.0 2165.7,752.9 2175.0,752.5"/>
<path class="e" d="M2201.0,427.5 C2314.0,431.0 2432.4,435.6 2540.0,438.0 C2637.8,440.2 2738.5,440.2 2820.0,442.0 C2883.1,443.4 2939.3,443.1 2988.0,447.0 C3025.7,450.0 3058.4,452.3 3088.0,460.0 C3113.0,466.6 3138.8,475.4 3155.0,487.0 C3167.0,495.6 3175.0,504.6 3181.0,517.0 C3188.1,531.6 3188.0,552.9 3191.5,570.9"/><polygon class="a" points="3194.0,584.0 3186.9,571.8 3196.0,570.0"/>
<path class="e" d="M2201.0,429.5 C2272.3,434.2 2353.2,435.8 2414.8,443.6 C2462.3,449.6 2507.8,459.8 2540.0,467.0 C2560.5,471.6 2574.6,472.5 2590.0,480.0 C2606.0,487.8 2618.7,502.5 2634.0,513.4 C2650.0,524.8 2667.9,537.0 2684.0,546.8 C2698.2,555.5 2711.5,562.0 2725.3,569.6"/><polygon class="a" points="2737.0,576.0 2723.1,573.7 2727.6,565.5"/>
<path class="e" d="M919.4,512.7 C892.9,517.5 869.6,523.2 840.0,527.0 C802.9,531.8 760.7,530.6 714.0,536.7 C654.7,544.4 558.8,561.6 513.6,573.5 C489.7,579.8 479.4,584.1 460.0,592.0 C435.7,601.9 406.5,618.0 380.0,630.0 C354.2,641.7 314.9,649.3 303.0,663.0 C296.2,670.8 295.9,680.8 296.0,689.0 C296.1,696.6 298.9,703.5 302.5,710.6 C306.7,718.9 313.6,727.6 321.0,735.0 C329.0,743.1 340.0,749.5 349.5,756.8"/><polygon class="a" points="360.0,765.0 346.6,760.5 352.4,753.1"/>
<path class="e" d="M998.6,519.0 C998.4,546.0 994.5,573.3 998.0,600.0 C1001.5,627.0 1007.3,656.0 1020.0,680.0 C1032.8,704.4 1061.2,732.0 1075.0,745.0 C1081.9,751.5 1086.6,753.7 1092.3,758.0"/><polygon class="a" points="1103.0,766.0 1089.5,761.7 1095.1,754.3"/>
<path class="e" d="M1077.0,519.0 C1118.0,523.5 1157.6,527.9 1200.0,532.6 C1245.4,537.6 1294.9,543.6 1341.0,548.0 C1385.4,552.2 1420.3,553.6 1471.7,558.4 C1545.9,565.3 1682.1,582.0 1743.5,587.0 C1774.9,589.6 1791.0,589.8 1814.7,591.2"/><polygon class="a" points="1828.0,592.0 1814.4,595.9 1815.0,586.6"/>
<path class="e" d="M1224.0,519.0 C1216.0,526.3 1208.0,531.6 1200.0,540.8 C1189.6,552.9 1177.9,571.6 1169.0,587.0 C1160.8,601.3 1154.0,613.6 1148.0,630.0 C1140.6,650.2 1133.4,678.2 1130.0,700.0 C1127.1,718.7 1127.9,735.1 1126.8,752.7"/><polygon class="a" points="1126.0,766.0 1122.1,752.4 1131.5,753.0"/>
<path class="e" d="M1314.0,518.5 C1366.6,525.9 1414.9,532.5 1471.7,540.8 C1538.4,550.5 1626.3,565.6 1689.0,573.4 C1736.5,579.3 1772.8,581.6 1814.7,585.7"/><polygon class="a" points="1828.0,587.0 1814.3,590.3 1815.2,581.1"/>
<path class="e" d="M1909.8,519.4 C1909.8,519.4 1909.8,571.2 1909.8,571.2"/><polygon class="a" points="1909.8,584.5 1905.1,571.2 1914.5,571.2"/>
<path class="e" d="M2161.0,516.7 C2074.0,524.7 1976.0,534.7 1900.0,540.8 C1841.2,545.5 1793.8,546.8 1743.5,551.6 C1696.5,556.1 1648.5,562.4 1607.6,568.0 C1573.8,572.6 1546.0,577.3 1515.2,582.0"/><polygon class="a" points="1502.0,584.0 1514.5,577.4 1515.9,586.6"/>
<path class="e" d="M2161.0,520.0 C2074.0,528.7 1975.9,537.6 1900.0,546.0 C1841.2,552.5 1793.6,556.4 1743.5,565.0 C1696.4,573.0 1644.8,584.2 1607.6,595.0 C1580.8,602.8 1565.9,611.5 1539.7,619.6 C1505.1,630.3 1458.9,637.4 1417.4,650.8 C1372.5,665.3 1323.4,685.5 1280.0,705.0 C1239.2,723.4 1202.6,744.3 1163.9,764.0"/><polygon class="a" points="1152.0,770.0 1161.8,759.8 1166.0,768.1"/>
<path class="e" d="M2177.7,526.7 C2177.7,526.7 1969.9,580.7 1969.9,580.7"/><polygon class="a" points="1957.0,584.0 1968.7,576.1 1971.1,585.2"/>
<path class="e" d="M2314.6,526.7 C2314.6,526.7 2502.2,580.3 2502.2,580.3"/><polygon class="a" points="2515.0,584.0 2500.9,584.8 2503.5,575.8"/>
<path class="e" d="M2338.0,521.7 C2358.7,525.5 2375.2,528.8 2400.0,533.0 C2437.3,539.3 2491.3,546.9 2540.0,555.0 C2593.2,563.9 2651.3,574.8 2706.9,584.7"/><polygon class="a" points="2720.0,587.0 2706.1,589.3 2707.7,580.1"/>
<path class="e" d="M2413.0,521.7 C2335.7,533.4 2253.0,546.0 2181.0,556.8 C2118.3,566.2 2063.8,574.3 2005.2,583.0"/><polygon class="a" points="1992.0,585.0 2004.5,578.4 2005.9,587.7"/>
<path class="e" d="M2413.0,524.0 C2335.7,527.7 2252.0,531.2 2181.0,535.0 C2120.8,538.2 2064.3,540.6 2014.0,545.0 C1972.3,548.6 1940.9,551.5 1900.0,558.0 C1851.7,565.7 1790.5,581.0 1743.0,590.0 C1703.7,597.5 1671.1,603.2 1635.0,609.0 C1598.8,614.8 1563.7,621.2 1526.0,625.0 C1485.6,629.1 1444.5,631.0 1400.0,632.0 C1349.9,633.1 1299.7,630.4 1240.0,630.0 C1164.0,629.5 1051.1,629.7 981.0,630.0 C933.1,630.2 907.8,627.4 860.0,631.0 C789.8,636.3 677.2,643.7 601.0,668.0 C534.6,689.2 483.6,728.6 424.8,758.9"/><polygon class="a" points="413.0,765.0 422.7,754.7 427.0,763.0"/>
<path class="e" d="M2486.8,526.8 C2477.9,544.5 2464.9,562.0 2460.0,580.0 C2455.5,596.5 2456.6,614.5 2456.8,630.0 C2456.9,643.5 2462.1,655.2 2460.0,668.0 C2457.7,682.3 2454.2,701.0 2441.5,711.5 C2423.5,726.4 2389.1,726.2 2348.0,731.6 C2271.2,741.7 2125.3,742.8 2014.0,748.0 C1902.7,753.2 1786.4,758.9 1680.0,763.0 C1582.6,766.8 1489.3,769.5 1400.0,772.0 C1318.1,774.3 1242.9,775.8 1164.3,777.7"/><polygon class="a" points="1151.0,778.0 1164.2,773.0 1164.4,782.3"/>
<path class="e" d="M2515.0,526.8 C2515.0,526.8 2540.5,572.4 2540.5,572.4"/><polygon class="a" points="2547.0,584.0 2536.4,574.6 2544.6,570.1"/>
<path class="e" d="M2563.7,526.8 C2563.7,526.8 2708.0,574.8 2708.0,574.8"/><polygon class="a" points="2720.6,579.0 2706.5,579.2 2709.4,570.4"/>
<path class="e" d="M2577.0,526.8 C2596.0,533.5 2618.8,535.8 2634.0,546.8 C2648.4,557.3 2659.1,575.2 2667.0,590.0 C2674.0,603.0 2678.0,617.3 2680.6,630.0 C2682.9,641.0 2682.2,651.1 2683.0,661.7"/><polygon class="a" points="2684.0,675.0 2678.3,662.1 2687.7,661.4"/>
<path class="e" d="M2593.0,521.7 C2640.0,526.1 2685.0,531.0 2734.0,535.0 C2787.3,539.4 2845.3,543.2 2901.0,546.8 C2956.7,550.4 3018.0,553.7 3068.0,556.8 C3108.8,559.3 3140.3,560.3 3179.0,563.7 C3221.5,567.4 3283.0,575.2 3312.6,578.7 C3327.4,580.4 3334.7,581.4 3345.8,582.8"/><polygon class="a" points="3359.0,584.4 3345.2,587.4 3346.3,578.1"/>
<path class="e" d="M2535.0,610.0 C2535.0,610.0 2433.1,668.4 2433.1,668.4"/><polygon class="a" points="2421.5,675.0 2430.7,664.3 2435.4,672.4"/>
<path class="e" d="M2553.6,610.0 C2544.7,629.3 2539.0,651.5 2527.0,668.0 C2515.4,683.9 2502.0,698.8 2483.5,708.0 C2461.4,719.0 2430.4,718.4 2400.0,723.0 C2363.9,728.5 2328.7,733.9 2281.0,738.0 C2209.8,744.1 2108.0,745.8 2014.0,750.0 C1908.9,754.7 1786.4,760.9 1680.0,765.0 C1582.6,768.8 1489.3,771.5 1400.0,774.0 C1318.1,776.3 1242.9,777.8 1164.3,779.7"/><polygon class="a" points="1151.0,780.0 1164.2,775.0 1164.4,784.3"/>
<path class="e" d="M2558.6,610.0 C2559.7,629.0 2561.2,646.1 2562.0,667.0 C2563.0,692.6 2563.2,724.1 2563.7,752.7"/><polygon class="a" points="2564.0,766.0 2559.1,752.8 2568.4,752.6"/>
<path class="e" d="M2573.7,610.0 C2573.7,610.0 2653.2,667.2 2653.2,667.2"/><polygon class="a" points="2664.0,675.0 2650.5,671.0 2655.9,663.4"/>
<path class="e" d="M2645.5,608.6 C2730.7,618.1 2816.3,628.4 2901.0,637.0 C2984.5,645.5 3082.6,652.7 3150.0,660.0 C3196.3,665.0 3227.8,669.6 3266.8,674.4"/><polygon class="a" points="3280.0,676.0 3266.2,679.0 3267.3,669.7"/>
<path class="e" d="M3392.8,610.0 C3321.5,635.7 3241.5,661.1 3179.0,687.0 C3128.6,707.9 3062.3,738.6 3045.0,750.0 C3040.3,753.1 3039.6,754.8 3037.0,757.1"/><polygon class="a" points="3027.0,766.0 3033.9,753.7 3040.1,760.6"/>
<path class="e" d="M3439.5,610.0 C3439.5,610.0 3518.9,666.7 3518.9,666.7"/><polygon class="a" points="3529.7,674.5 3516.1,670.5 3521.6,662.9"/>
<path class="e" d="M3504.6,700.7 C3429.4,719.5 3312.3,747.0 3279.0,757.0 C3269.3,759.9 3266.7,761.4 3260.6,763.5"/><polygon class="a" points="3248.0,768.0 3259.0,759.1 3262.1,767.9"/>
<path class="e" d="M3559.7,700.7 C3559.7,700.7 3590.4,754.4 3590.4,754.4"/><polygon class="a" points="3597.0,766.0 3586.3,756.7 3594.4,752.1"/>
<path class="e" d="M247.0,519.0 C228.0,526.0 205.2,531.2 190.0,540.0 C178.0,546.9 169.2,552.7 161.0,564.0 C150.0,579.3 138.1,608.5 136.0,628.0 C134.4,643.5 141.2,659.6 143.0,671.0 C144.2,678.6 142.7,682.9 146.0,690.0 C151.8,702.5 170.7,723.4 185.0,735.0 C197.7,745.3 210.4,752.0 226.0,758.0 C244.1,765.0 267.9,768.7 288.0,772.0 C306.7,775.1 324.5,775.8 342.7,777.6"/><polygon class="a" points="356.0,779.0 342.3,782.3 343.2,773.0"/>
<path class="e" d="M276.0,519.0 C255.3,528.0 227.5,531.6 214.0,546.0 C201.7,559.2 196.3,581.7 195.0,599.0 C193.8,615.0 196.2,631.8 204.0,646.0 C213.0,662.3 233.8,677.7 250.0,689.0 C264.6,699.2 277.1,704.8 296.0,712.0 C323.3,722.4 363.2,732.5 400.0,740.0 C440.7,748.3 483.7,753.2 530.0,758.0 C582.8,763.5 641.0,766.9 700.0,770.0 C763.9,773.4 834.9,775.4 900.0,777.0 C962.0,778.6 1021.1,778.9 1081.7,779.8"/><polygon class="a" points="1095.0,780.0 1081.6,784.5 1081.7,775.1"/>
<path class="e" d="M310.7,519.4 C310.7,519.4 307.4,563.7 307.4,563.7"/><polygon class="a" points="306.4,577.0 302.7,563.4 312.0,564.1"/>
<path class="e" d="M350.0,519.0 C360.0,521.7 366.1,522.9 380.0,527.0 C412.9,536.6 489.5,562.0 544.3,579.4"/><polygon class="a" points="557.0,583.5 542.9,583.9 545.7,575.0"/>
<path class="e" d="M371.0,519.0 C451.9,528.3 530.8,540.0 613.8,546.8 C700.6,553.9 788.0,557.0 881.0,560.0 C982.6,563.3 1097.9,562.6 1200.0,565.0 C1294.2,567.2 1381.2,569.1 1471.7,573.4 C1562.3,577.7 1682.1,587.6 1743.5,591.0 C1774.9,592.8 1791.0,593.2 1814.7,594.4"/><polygon class="a" points="1828.0,595.0 1814.5,599.0 1814.9,589.7"/>
<path class="e" d="M375.0,519.0 C432.3,527.1 490.1,535.4 547.0,543.4 C603.1,551.3 648.7,559.0 714.0,566.8 C806.1,577.8 951.9,591.8 1048.0,600.0 C1120.8,606.2 1173.0,608.0 1240.0,613.6 C1313.6,619.8 1396.4,631.5 1471.7,635.9 C1542.9,640.0 1609.6,638.0 1680.0,640.0 C1752.3,642.0 1838.7,643.4 1900.0,648.0 C1944.3,651.3 1969.2,657.0 2014.0,661.0 C2078.1,666.8 2187.0,672.7 2248.0,676.5 C2287.2,679.0 2312.5,680.3 2344.7,682.2"/><polygon class="a" points="2358.0,683.0 2344.4,686.9 2345.0,677.6"/>
<path class="e" d="M528.6,519.4 C501.4,544.1 473.7,572.9 447.0,593.5 C424.3,611.0 403.2,625.0 380.0,637.0 C357.5,648.7 322.9,652.9 310.0,665.0 C302.2,672.3 297.8,682.0 298.0,690.0 C298.2,697.6 303.4,705.9 310.0,712.0 C318.8,720.1 334.1,724.7 350.0,730.0 C371.8,737.3 401.7,743.6 430.0,748.0 C461.3,752.9 488.5,754.0 530.0,757.0 C598.1,762.0 709.0,768.9 800.0,772.0 C892.9,775.2 987.8,774.5 1081.7,775.8"/><polygon class="a" points="1095.0,776.0 1081.6,780.5 1081.7,771.1"/>
<path class="e" d="M547.0,519.4 C547.0,519.4 579.9,572.2 579.9,572.2"/><polygon class="a" points="587.0,583.5 576.0,574.7 583.9,569.7"/>
<path class="e" d="M642.0,514.0 C721.7,520.5 795.5,527.7 881.0,533.4 C979.6,540.0 1098.0,544.0 1200.0,550.0 C1294.2,555.6 1381.1,561.7 1471.7,568.0 C1562.3,574.3 1682.1,585.0 1743.5,588.0 C1774.9,589.5 1790.9,589.1 1814.7,589.7"/><polygon class="a" points="1828.0,590.0 1814.6,594.4 1814.8,585.0"/>
<path class="e" d="M572.0,610.0 C572.0,610.0 447.0,669.3 447.0,669.3"/><polygon class="a" points="435.0,675.0 445.0,665.1 449.0,673.5"/>
<path class="e" d="M600.0,610.0 C610.0,631.7 614.6,656.4 630.0,675.0 C646.9,695.4 670.6,712.3 700.0,725.0 C739.2,742.0 794.3,747.4 850.0,755.0 C918.6,764.3 1004.5,766.3 1081.7,772.0"/><polygon class="a" points="1095.0,773.0 1081.4,776.7 1082.0,767.4"/>
<path class="e" d="M674.0,607.0 C743.0,612.5 802.5,619.9 881.0,623.6 C984.2,628.5 1144.2,626.9 1240.0,628.6 C1304.0,629.7 1350.8,629.4 1400.0,632.0 C1442.4,634.2 1489.5,634.6 1518.0,642.0 C1535.3,646.5 1546.4,651.3 1558.0,660.0 C1569.9,668.9 1575.7,686.1 1588.0,695.0 C1600.6,704.2 1615.7,710.1 1633.0,714.0 C1654.5,718.9 1673.2,716.6 1708.0,717.5 C1787.5,719.5 1978.1,718.3 2100.0,719.0 C2206.7,719.6 2306.3,715.8 2400.0,721.5 C2483.0,726.5 2559.0,740.3 2634.0,748.0 C2703.2,755.1 2787.9,763.0 2834.0,766.6 C2858.3,768.5 2871.1,769.0 2889.7,770.2"/><polygon class="a" points="2903.0,771.0 2889.4,774.8 2890.0,765.5"/>
<path class="e" d="M328.6,617.0 C328.6,617.0 382.9,665.6 382.9,665.6"/><polygon class="a" points="392.8,674.5 379.8,669.1 386.0,662.1"/>
<path class="e" d="M2926.0,520.0 C2862.0,525.7 2798.2,533.0 2734.0,537.0 C2669.6,541.0 2599.4,542.1 2540.0,544.0 C2489.5,545.6 2451.9,546.8 2400.0,548.0 C2335.1,549.5 2249.1,550.6 2181.0,552.0 C2121.6,553.3 2064.3,553.6 2014.0,556.0 C1972.4,558.0 1940.8,557.9 1900.0,564.0 C1851.6,571.2 1790.6,590.6 1743.0,600.0 C1703.8,607.8 1671.2,613.0 1635.0,618.0 C1598.8,623.0 1563.7,627.0 1526.0,630.0 C1485.6,633.2 1444.5,635.2 1400.0,636.0 C1349.9,636.9 1299.7,634.3 1240.0,634.0 C1164.0,633.7 1051.1,633.1 981.0,635.0 C933.1,636.3 905.7,636.6 860.0,641.0 C799.7,646.8 720.6,651.8 651.0,671.0 C576.6,691.5 502.5,732.9 428.3,763.9"/><polygon class="a" points="416.0,769.0 426.5,759.6 430.1,768.2"/>
<path class="e" d="M2977.8,520.0 C2977.8,520.0 2848.4,572.0 2848.4,572.0"/><polygon class="a" points="2836.0,577.0 2846.6,567.7 2850.1,576.4"/>
<path class="e" d="M3001.0,520.0 C3001.0,520.0 2931.8,663.0 2931.8,663.0"/><polygon class="a" points="2926.0,675.0 2927.6,661.0 2936.0,665.0"/>
<path class="e" d="M3009.6,520.0 C3012.4,551.2 3016.6,586.3 3018.0,613.6 C3019.1,634.7 3019.8,651.8 3018.7,670.0 C3017.7,687.2 3016.1,705.2 3012.0,720.0 C3008.5,732.6 3002.2,742.5 2997.3,753.8"/><polygon class="a" points="2992.0,766.0 2993.0,751.9 3001.6,755.6"/>
<path class="e" d="M3101.5,513.6 C3183.0,521.4 3276.8,528.5 3346.0,537.0 C3397.3,543.3 3446.0,549.0 3479.6,557.0 C3500.6,562.0 3518.4,565.3 3529.7,573.7 C3538.0,579.8 3546.3,588.1 3546.0,596.7 C3545.6,608.4 3527.9,626.2 3513.0,636.8 C3495.0,649.7 3456.4,657.9 3442.0,663.5 C3435.7,666.0 3432.9,667.2 3428.4,669.0"/><polygon class="a" points="3416.0,674.0 3426.6,664.7 3430.1,673.3"/>
<path class="e" d="M2925.0,700.7 C2925.0,700.7 2958.0,754.6 2958.0,754.6"/><polygon class="a" points="2965.0,766.0 2954.1,757.1 2962.0,752.2"/>
<path class="e" d="M2867.6,700.7 C2823.1,706.5 2788.7,712.8 2734.0,718.0 C2647.8,726.1 2515.4,732.5 2400.0,738.0 C2276.0,744.0 2138.0,747.0 2014.0,752.0 C1898.6,756.7 1786.4,762.9 1680.0,767.0 C1582.6,770.8 1489.3,773.5 1400.0,776.0 C1318.1,778.3 1242.9,779.8 1164.3,781.7"/><polygon class="a" points="1151.0,782.0 1164.2,777.0 1164.4,786.3"/>
<path class="e" d="M3095.0,603.5 C3056.2,609.0 3013.4,613.7 2978.6,620.0 C2950.0,625.1 2925.9,631.7 2901.0,637.0 C2877.9,642.0 2851.5,641.5 2834.0,651.0 C2819.3,658.9 2811.5,674.7 2800.0,685.0 C2789.2,694.7 2782.2,705.0 2767.0,711.5 C2743.6,721.5 2708.5,721.3 2667.0,725.0 C2599.5,731.0 2497.2,732.7 2400.0,736.6 C2283.2,741.3 2138.0,745.9 2014.0,751.0 C1898.6,755.7 1786.4,761.9 1680.0,766.0 C1582.6,769.8 1489.3,772.5 1400.0,775.0 C1318.1,777.3 1242.9,778.8 1164.3,780.7"/><polygon class="a" points="1151.0,781.0 1164.2,776.0 1164.4,785.3"/>
<path class="e" d="M3187.0,610.0 C3173.2,627.8 3164.2,646.2 3145.6,663.5 C3120.7,686.6 3066.3,711.8 3045.0,730.0 C3033.4,739.9 3029.0,747.4 3021.0,756.2"/><polygon class="a" points="3012.0,766.0 3017.6,753.0 3024.4,759.3"/>
<path class="e" d="M3217.5,610.0 C3217.5,610.0 3327.2,668.2 3327.2,668.2"/><polygon class="a" points="3339.0,674.5 3325.0,672.4 3329.4,664.1"/>
<path class="e" d="M717.0,701.0 C717.0,701.0 429.0,769.9 429.0,769.9"/><polygon class="a" points="416.0,773.0 427.9,765.4 430.1,774.4"/>
<path class="e" d="M813.0,701.0 C828.7,705.7 840.1,709.5 860.0,715.0 C894.2,724.4 959.5,740.7 1000.0,750.0 C1030.9,757.1 1054.6,761.5 1082.0,767.3"/><polygon class="a" points="1095.0,770.0 1081.0,771.8 1082.9,762.7"/>
<path class="e" d="M857.5,690.0 C963.0,694.5 1067.1,699.7 1174.0,703.6 C1283.8,707.6 1412.0,711.3 1508.0,713.6 C1580.8,715.3 1624.4,716.1 1700.0,717.0 C1809.1,718.2 1963.5,717.7 2100.0,719.0 C2243.2,720.3 2423.0,721.2 2540.0,725.0 C2617.8,727.5 2660.6,730.6 2734.0,735.0 C2830.3,740.8 2994.4,750.2 3068.0,758.0 C3104.6,761.9 3122.5,765.8 3149.8,769.7"/><polygon class="a" points="3163.0,771.6 3149.1,774.3 3150.5,765.1"/>
</g>
<g id="nodes">
<rect class="n" x="1570.20" y="6.67" width="223.50" height="40.00" fill="#bfbfbf" stroke="#000000"/>
<text x="1580.9 1590.9 1597.9 1604.9 1611.9 1614.9 1624.9 1631.9 1642.9 1653.9 1660.9 1667.9 1676.9 1683.9 1690.9 1694.9 1701.9 1705.9" y="22.7">GaudiCommonSvc/src</text>
<text x="1580.9 1584.9 1594.9 1601.9 1605.9 1612.9 1621.9 1628.9 1635.9 1639.9 1649.9 1656.9 1663.9 1673.9 1680.9 1687.9 1694.9 1698.9 1705.9 1715.9 1722.9 1726.9 1733.9 1742.9 1749.9 1756.9 1760.9 1767.9 1774.9" y="37.1">/DataSvc/RunRecordDataSvc.cpp</text>
<rect class="n" x="1618.20" y="96.66" width="127.10" height="25.34" fill="#ffffff" stroke="#000000"/>
<text x="1629.8 1639.8 1646.8 1653.8 1660.8 1664.8 1671.8 1681.8 1688.8 1692.8 1699.8 1708.8 1715.8 1722.8 1726.8" y="112.6">RecordDataSvc.h</text>
<rect class="n" x="1941.20" y="171.33" width="158.10" height="25.34" fill="#ffffff" stroke="#000000"/>
<text x="1951.8 1961.8 1968.8 1975.8 1982.8 1985.8 1994.8 2001.8 2005.8 2012.8 2019.8 2022.8 2026.8 2036.8 2043.8 2047.8 2054.8 2063.8 2070.8 2077.8 2081.8" y="187.3">GaudiKernel/DataSvc.h</text>
<rect class="n" x="1289.70" y="246.00" width="152.10" height="25.34" fill="#ffffff" stroke="#000000"/>
<text x="1300.8 1310.8 1317.8 1324.8 1331.8 1334.8 1343.8 1350.8 1354.8 1361.8 1368.8 1371.8 1375.8 1384.8 1391.8 1395.8 1402.8 1405.8 1412.8 1419.8 1423.8" y="262.0">GaudiKernel/Service.h</text>
<rect class="n" x="1580.70" y="246.00" width="201.60" height="25.34" fill="#ffffff" stroke="#000000"/>
<text x="1592.0 1602.0 1609.0 1616.0 1623.0 1626.0 1635.0 1642.0 1646.0 1653.0 1660.0 1663.0 1667.0 1671.0 1681.0 1688.0 1695.0 1702.0 1709.0 1713.0 1720.0 1723.0 1730.0 1737.0 1746.0 1753.0 1760.0 1764.0" y="262.0">GaudiKernel/IConversionSvc.h</text>
<rect class="n" x="719.20" y="328.66" width="175.60" height="25.34" fill="#ffffff" stroke="#ff0000"/>
<text x="730.0 740.0 747.0 754.0 761.0 764.0 773.0 780.0 784.0 791.0 798.0 801.0 805.0 809.0 818.0 825.0 832.0 835.0 839.0 846.0 850.0 859.0 866.0 873.0 877.0" y="344.6">GaudiKernel/IAuditorSvc.h</text>
<rect class="n" x="1020.70" y="328.66" width="194.10" height="25.34" fill="#ffffff" stroke="#ff0000"/>
<text x="1031.2 1041.2 1048.2 1055.2 1062.2 1065.2 1074.2 1081.2 1085.2 1092.2 1099.2 1102.2 1106.2 1115.2 1119.2 1126.2 1133.2 1140.2 1144.2 1148.2 1155.2 1165.2 1172.2 1175.2 1182.2 1189.2 1193.2 1197.2" y="344.6">GaudiKernel/PropertyHolder.h</text>
<rect class="n" x="1290.70" y="328.66" width="150.60" height="25.34" fill="#ffffff" stroke="#ff0000"/>
<text x="1301.5 1311.5 1318.5 1325.5 1332.5 1335.5 1339.5 1348.5 1351.5 1358.5 1365.5 1368.5 1375.5 1384.5 1391.5 1395.5 1402.5 1405.5 1412.5 1419.5 1423.5" y="344.6">Gaudi/PluginService.h</text>
<rect class="n" x="1465.70" y="328.66" width="58.60" height="25.34" fill="#ffffff" stroke="#bfbfbf"/>
<text x="1477.0 1488.0 1495.0 1499.0 1506.0" y="344.6">mutex</text>
<rect class="n" x="1599.20" y="321.33" width="183.60" height="40.00" fill="#ffffff" stroke="#000000"/>
<text x="1610.0 1620.0 1627.0 1634.0 1641.0 1644.0 1653.0 1660.0 1664.0 1671.0 1678.0 1681.0 1685.0 1694.0 1701.0 1705.0 1712.0 1715.0 1722.0 1729.0 1736.0 1743.0 1750.0 1757.0 1761.0 1768.0" y="337.3">GaudiKernel/ServiceLocator</text>
<text x="1666.5 1676.5 1683.5 1686.5 1693.5 1700.5 1704.5 1708.5" y="351.7">Helper.h</text>
<rect class="n" x="1959.70" y="328.66" width="223.60" height="25.34" fill="#ffffff" stroke="#ff0000"/>
<text x="1970.5 1980.5 1987.5 1994.5 2001.5 2004.5 2013.5 2020.5 2024.5 2031.5 2038.5 2041.5 2045.5 2055.5 2062.5 2073.5 2084.5 2091.5 2098.5 2109.5 2116.5 2123.5 2130.5 2137.5 2144.5 2147.5 2154.5 2161.5 2165.5" y="344.6">GaudiKernel/CommonMessaging.h</text>
<rect class="n" x="1050.70" y="411.33" width="155.60" height="25.34" fill="#ffffff" stroke="#ff0000"/>
<text x="1061.5 1071.5 1078.5 1085.5 1092.5 1095.5 1104.5 1111.5 1115.5 1122.5 1129.5 1132.5 1136.5 1140.5 1149.5 1156.5 1160.5 1167.5 1170.5 1177.5 1184.5 1188.5" y="427.3">GaudiKernel/IService.h</text>
<rect class="n" x="1553.70" y="411.33" width="178.60" height="25.34" fill="#ffffff" stroke="#ff0000"/>
<text x="1565.0 1575.0 1582.0 1589.0 1596.0 1599.0 1608.0 1615.0 1619.0 1626.0 1633.0 1636.0 1640.0 1644.0 1653.0 1660.0 1667.0 1674.0 1681.0 1688.0 1695.0 1699.0 1706.0 1710.0 1714.0" y="427.3">GaudiKernel/ISvcLocator.h</text>
<rect class="n" x="2044.70" y="411.33" width="157.10" height="25.34" fill="#ffffff" stroke="#ff0000"/>
<text x="2055.8 2065.8 2072.8 2079.8 2086.8 2089.8 2098.8 2105.8 2109.8 2116.8 2123.8 2126.8 2130.8 2139.8 2143.8 2150.8 2157.8 2164.8 2168.8 2172.8 2179.8 2183.8" y="427.3">GaudiKernel/Property.h</text>
<rect class="n" x="220.70" y="494.00" width="180.60" height="25.34" fill="#ffffff" stroke="#000000"/>
<text x="231.5 241.5 248.5 255.5 262.5 265.5 274.5 281.5 285.5 292.5 299.5 302.5 306.5 310.5 314.5 321.5 328.5 331.5 338.5 345.5 352.5 356.5 365.5 372.5 379.5 383.5" y="510.0">GaudiKernel/IIncidentSvc.h</text>
<rect class="n" x="438.70" y="494.00" width="203.60" height="25.34" fill="#ffffff" stroke="#000000"/>
<text x="449.5 459.5 466.5 473.5 480.5 483.5 492.5 499.5 503.5 510.5 517.5 520.5 524.5 528.5 532.5 539.5 546.5 549.5 556.5 563.5 570.5 574.5 581.5 584.5 591.5 595.5 602.5 609.5 616.5 620.5 624.5" y="510.0">GaudiKernel/IIncidentListener.h</text>
<rect class="n" x="920.20" y="494.00" width="160.60" height="25.34" fill="#ffffff" stroke="#ff0000"/>
<text x="931.0 941.0 948.0 955.0 962.0 965.0 974.0 981.0 985.0 992.0 999.0 1002.0 1006.0 1010.0 1019.0 1023.0 1030.0 1037.0 1044.0 1048.0 1052.0 1059.0 1063.0" y="510.0">GaudiKernel/IProperty.h</text>
<rect class="n" x="1156.70" y="494.00" width="157.10" height="25.34" fill="#ffffff" stroke="#ff0000"/>
<text x="1167.8 1177.8 1184.8 1191.8 1198.8 1201.8 1210.8 1217.8 1221.8 1228.8 1235.8 1238.8 1242.8 1246.8 1255.8 1259.8 1266.8 1270.8 1277.8 1281.8 1288.8 1291.8 1295.8" y="510.0">GaudiKernel/IStateful.h</text>
<rect class="n" x="1832.70" y="494.00" width="154.10" height="25.34" fill="#ffffff" stroke="#000000"/>
<text x="1843.2 1853.2 1860.2 1867.2 1874.2 1877.2 1886.2 1893.2 1897.2 1904.2 1911.2 1914.2 1918.2 1927.2 1938.2 1945.2 1949.2 1953.2 1957.2 1965.2 1969.2" y="510.0">GaudiKernel/SmartIF.h</text>
<rect class="n" x="2161.20" y="486.67" width="176.60" height="40.00" fill="#ffffff" stroke="#000000"/>
<text x="2172.0 2182.0 2189.0 2196.0 2203.0 2206.0 2215.0 2222.0 2226.0 2233.0 2240.0 2243.0 2247.0 2251.0 2261.0 2268.0 2272.0 2279.0 2288.0 2292.0 2299.0 2306.0 2309.0 2316.0 2323.0" y="502.7">GaudiKernel/IDataProvider</text>
<text x="2232.5 2241.5 2248.5 2255.5 2259.5" y="517.1">Svc.h</text>
<rect class="n" x="2414.20" y="486.67" width="178.10" height="40.00" fill="#ffffff" stroke="#000000"/>
<text x="2424.8 2434.8 2441.8 2448.8 2455.8 2458.8 2467.8 2474.8 2478.8 2485.8 2492.8 2495.8 2499.8 2503.8 2513.8 2520.8 2524.8 2531.8 2542.8 2549.8 2556.8 2563.8 2570.8 2577.8" y="502.7">GaudiKernel/IDataManager</text>
<text x="2486.2 2495.2 2502.2 2509.2 2513.2" y="517.1">Svc.h</text>
<rect class="n" x="2667.70" y="494.00" width="169.60" height="25.34" fill="#ffffff" stroke="#000000"/>
<text x="2679.0 2689.0 2696.0 2703.0 2710.0 2713.0 2722.0 2729.0 2733.0 2740.0 2747.0 2750.0 2754.0 2758.0 2768.0 2775.0 2782.0 2789.0 2796.0 2800.0 2804.0 2811.0 2815.0 2819.0" y="510.0">GaudiKernel/IConverter.h</text>
<rect class="n" x="2912.70" y="494.00" width="188.10" height="25.34" fill="#ffffff" stroke="#000000"/>
<text x="2923.8 2933.8 2940.8 2947.8 2954.8 2957.8 2966.8 2973.8 2977.8 2984.8 2991.8 2994.8 2998.8 3008.8 3015.8 3022.8 3025.8 3032.8 3036.8 3040.8 3047.8 3056.8 3063.8 3067.8 3071.8 3078.8 3082.8" y="510.0">GaudiKernel/RegistryEntry.h</text>
<rect class="n" x="216.20" y="577.33" width="176.60" height="40.00" fill="#ffffff" stroke="#000000"/>
<text x="227.0 237.0 244.0 251.0 258.0 261.0 270.0 277.0 281.0 288.0 295.0 298.0 302.0 311.0 318.0 325.0 332.0 336.0 346.0 353.0 360.0 364.0 371.0 378.0" y="593.3">GaudiKernel/EventContext</text>
<text x="283.5 293.5 300.5 307.5 314.5 318.5" y="607.7">Hash.h</text>
<rect class="n" x="519.70" y="584.66" width="154.10" height="25.34" fill="#ffffff" stroke="#000000"/>
<text x="530.8 540.8 547.8 554.8 561.8 564.8 573.8 580.8 584.8 591.8 598.8 601.8 605.8 609.8 616.8 623.8 626.8 633.8 640.8 647.8 651.8 655.8" y="600.6">GaudiKernel/Incident.h</text>
<rect class="n" x="1338.70" y="584.66" width="192.60" height="25.34" fill="#ffffff" stroke="#000000"/>
<text x="1349.5 1359.5 1366.5 1373.5 1380.5 1383.5 1392.5 1399.5 1403.5 1410.5 1417.5 1420.5 1424.5 1434.5 1441.5 1445.5 1452.5 1461.5 1465.5 1472.5 1476.5 1483.5 1487.5 1491.5 1498.5 1509.5 1513.5" y="600.6">GaudiKernel/DataStoreItem.h</text>
<rect class="n" x="1828.70" y="584.66" width="162.60" height="25.34" fill="#ffffff" stroke="#000000"/>
<text x="1839.5 1849.5 1856.5 1863.5 1870.5 1873.5 1882.5 1889.5 1893.5 1900.5 1907.5 1910.5 1914.5 1918.5 1922.5 1929.5 1933.5 1940.5 1944.5 1948.5 1955.5 1962.5 1969.5 1973.5" y="600.6">GaudiKernel/IInterface.h</text>
<rect class="n" x="2470.70" y="584.66" width="174.60" height="25.34" fill="#ffffff" stroke="#000000"/>
<text x="2482.0 2492.0 2499.0 2506.0 2513.0 2516.0 2525.0 2532.0 2536.0 2543.0 2550.0 2553.0 2557.0 2567.0 2574.0 2578.0 2585.0 2595.0 2602.0 2605.0 2612.0 2619.0 2623.0 2627.0" y="600.6">GaudiKernel/DataObject.h</text>
<rect class="n" x="2721.20" y="577.33" width="124.10" height="40.00" fill="#ffffff" stroke="#bfbfbf"/>
<text x="2731.8 2738.8 2745.8 2752.8 2759.8 2763.8 2767.8 2774.8 2778.8 2781.8 2784.8 2787.8 2791.8 2798.8 2802.8 2809.8 2813.8 2817.8 2820.8 2827.8" y="593.3">boost/utility/string</text>
<text x="2759.8 2766.8 2770.8 2777.8 2781.8 2785.8 2792.8 2799.8" y="607.7">_ref.hpp</text>
<rect class="n" x="3095.20" y="584.66" width="200.10" height="25.34" fill="#ffffff" stroke="#ff0000"/>
<text x="3106.2 3116.2 3123.2 3130.2 3137.2 3140.2 3149.2 3156.2 3160.2 3167.2 3174.2 3177.2 3181.2 3191.2 3198.2 3205.2 3212.2 3215.2 3224.2 3231.2 3238.2 3245.2 3252.2 3256.2 3259.2 3266.2 3273.2 3277.2" y="600.6">GaudiKernel/GaudiException.h</text>
<rect class="n" x="3319.70" y="584.66" width="204.60" height="25.34" fill="#ffffff" stroke="#000000"/>
<text x="3330.5 3340.5 3347.5 3354.5 3361.5 3364.5 3373.5 3380.5 3384.5 3391.5 3398.5 3401.5 3405.5 3409.5 3419.5 3426.5 3430.5 3437.5 3446.5 3450.5 3457.5 3461.5 3468.5 3477.5 3484.5 3491.5 3498.5 3502.5 3506.5" y="600.6">GaudiKernel/IDataStoreAgent.h</text>
<rect class="n" x="317.20" y="675.33" width="188.10" height="25.34" fill="#ffffff" stroke="#ff0000"/>
<text x="328.2 338.2 345.2 352.2 359.2 362.2 371.2 378.2 382.2 389.2 396.2 399.2 403.2 412.2 419.2 426.2 433.2 437.2 447.2 454.2 461.2 465.2 472.2 479.2 483.2 487.2" y="691.3">GaudiKernel/EventContext.h</text>
<rect class="n" x="682.70" y="675.33" width="174.60" height="25.34" fill="#ffffff" stroke="#ff0000"/>
<text x="694.0 704.0 711.0 718.0 725.0 728.0 737.0 744.0 748.0 755.0 762.0 765.0 769.0 777.0 784.0 791.0 794.0 804.0 811.0 818.0 825.0 828.0 835.0 839.0" y="691.3">GaudiKernel/ToolHandle.h</text>
<rect class="n" x="1388.70" y="675.33" width="153.60" height="25.34" fill="#ffffff" stroke="#ff0000"/>
<text x="1400.0 1410.0 1417.0 1424.0 1431.0 1434.0 1443.0 1450.0 1454.0 1461.0 1468.0 1471.0 1475.0 1484.0 1491.0 1498.0 1502.0 1509.0 1520.0 1524.0" y="691.3">GaudiKernel/System.h</text>
<rect class="n" x="1617.70" y="675.33" width="154.60" height="25.34" fill="#ffffff" stroke="#000000"/>
<text x="1629.0 1639.0 1646.0 1653.0 1660.0 1663.0 1672.0 1679.0 1683.0 1690.0 1697.0 1700.0 1704.0 1711.0 1718.0 1722.0 1729.0 1736.0 1743.0 1750.0 1754.0" y="691.3">GaudiKernel/extends.h</text>
<rect class="n" x="1797.20" y="675.33" width="175.10" height="25.34" fill="#ffffff" stroke="#ff0000"/>
<text x="1808.2 1818.2 1825.2 1832.2 1839.2 1842.2 1851.2 1858.2 1862.2 1869.2 1876.2 1879.2 1883.2 1886.2 1897.2 1904.2 1907.2 1914.2 1925.2 1932.2 1939.2 1943.2 1950.2 1954.2" y="691.3">GaudiKernel/implements.h</text>
<rect class="n" x="1996.70" y="668.00" width="135.60" height="40.00" fill="#ffffff" stroke="#000000"/>
<text x="2007.5 2017.5 2024.5 2031.5 2038.5 2041.5 2050.5 2057.5 2061.5 2068.5 2075.5 2078.5 2082.5 2089.5 2096.5 2100.5 2107.5 2114.5" y="684.0">GaudiKernel/extend</text>
<text x="2027.0 2034.0 2037.0 2044.0 2048.0 2055.0 2059.0 2063.0 2070.0 2077.0 2084.0 2091.0 2095.0" y="698.4">_interfaces.h</text>
<rect class="n" x="2359.20" y="675.33" width="69.10" height="25.34" fill="#ffffff" stroke="#bfbfbf"/>
<text x="2370.2 2381.2 2388.2 2399.2 2406.2 2410.2" y="691.3">memory</text>
<rect class="n" x="2605.20" y="675.33" width="156.10" height="25.34" fill="#ffffff" stroke="#000000"/>
<text x="2616.2 2626.2 2633.2 2640.2 2647.2 2650.2 2659.2 2666.2 2670.2 2677.2 2684.2 2687.2 2691.2 2701.2 2704.2 2711.2 2718.2 2725.2 2729.2 2739.2 2743.2" y="691.3">GaudiKernel/ClassID.h</text>
<rect class="n" x="2837.20" y="675.33" width="161.10" height="25.34" fill="#ffffff" stroke="#000000"/>
<text x="2848.2 2858.2 2865.2 2872.2 2879.2 2882.2 2891.2 2898.2 2902.2 2909.2 2916.2 2919.2 2923.2 2927.2 2937.2 2944.2 2951.2 2954.2 2961.2 2965.2 2969.2 2976.2 2980.2" y="691.3">GaudiKernel/IRegistry.h</text>
<rect class="n" x="3277.20" y="675.33" width="177.10" height="25.34" fill="#ffffff" stroke="#000000"/>
<text x="3288.2 3298.2 3305.2 3312.2 3319.2 3322.2 3331.2 3338.2 3342.2 3349.2 3356.2 3359.2 3363.2 3372.2 3376.2 3383.2 3387.2 3394.2 3401.2 3411.2 3418.2 3425.2 3432.2 3436.2" y="691.3">GaudiKernel/StatusCode.h</text>
<rect class="n" x="3478.70" y="675.33" width="147.10" height="25.34" fill="#ffffff" stroke="#ff0000"/>
<text x="3490.2 3500.2 3507.2 3514.2 3521.2 3524.2 3533.2 3540.2 3544.2 3551.2 3558.2 3561.2 3565.2 3568.2 3575.2 3582.2 3589.2 3596.2 3603.2 3607.2" y="691.3">GaudiKernel/invoke.h</text>
<rect class="n" x="356.70" y="766.00" width="58.10" height="25.34" fill="#ffffff" stroke="#bfbfbf"/>
<text x="367.8 374.8 381.8 388.8 392.8 399.8" y="782.0">vector</text>
<rect class="n" x="1095.70" y="766.00" width="54.60" height="25.34" fill="#ffffff" stroke="#bfbfbf"/>
<text x="1107.0 1114.0 1118.0 1122.0 1125.0 1132.0" y="782.0">string</text>
<rect class="n" x="2136.20" y="766.00" width="67.10" height="25.34" fill="#ffffff" stroke="#bfbfbf"/>
<text x="2146.8 2150.8 2157.8 2164.8 2171.8 2174.8 2181.8 2185.8" y="782.0">typeinfo</text>
<rect class="n" x="2532.70" y="766.00" width="68.60" height="25.34" fill="#ffffff" stroke="#bfbfbf"/>
<text x="2543.5 2550.5 2557.5 2561.5 2565.5 2572.5 2579.5" y="782.0">ostream</text>
<rect class="n" x="2904.20" y="766.00" width="145.10" height="25.34" fill="#ffffff" stroke="#000000"/>
<text x="2915.2 2925.2 2932.2 2939.2 2946.2 2949.2 2958.2 2965.2 2969.2 2976.2 2983.2 2986.2 2990.2 2999.2 3006.2 3010.2 3017.2 3024.2 3027.2 3031.2" y="782.0">GaudiKernel/Kernel.h</text>
<rect class="n" x="3164.70" y="766.00" width="82.10" height="25.34" fill="#ffffff" stroke="#bfbfbf"/>
<text x="3175.2 3179.2 3186.2 3193.2 3200.2 3207.2 3211.2 3215.2 3222.2 3225.2 3229.2" y="782.0">type_traits</text>
<rect class="n" x="3290.20" y="758.67" width="151.10" height="40.00" fill="#ffffff" stroke="#bfbfbf"/>
<text x="3300.9 3307.9 3314.9 3321.9 3328.9 3332.9 3336.9 3343.9 3347.9 3354.9 3361.9 3365.9 3372.9 3379.9 3386.9 3393.9 3400.9 3407.9" y="774.7">boost/preprocessor</text>
<text x="3300.9 3304.9 3308.9 3315.9 3322.9 3325.9 3328.9 3331.9 3335.9 3338.9 3345.9 3352.9 3356.9 3363.9 3370.9 3377.9 3381.9 3384.9 3391.9 3398.9 3405.9 3409.9 3416.9 3423.9" y="789.1">/facilities/overload.hpp</text>
<rect class="n" x="3580.70" y="766.00" width="52.60" height="25.34" fill="#ffffff" stroke="#bfbfbf"/>
<text x="3591.5 3598.5 3602.5 3605.5 3608.5 3611.5 3615.5" y="782.0">utility</text>
</g></svg></body></html>
